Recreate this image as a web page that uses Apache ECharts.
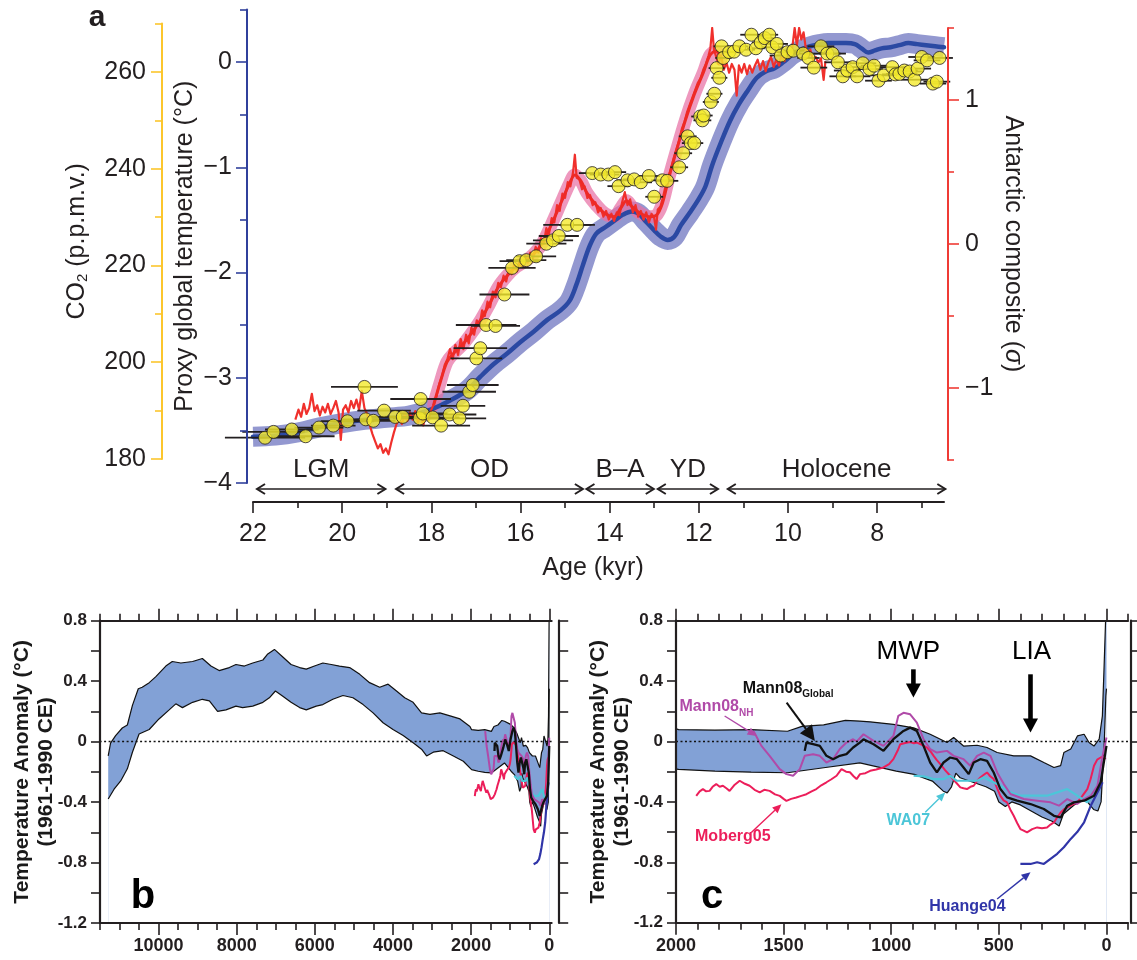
<!DOCTYPE html>
<html>
<head>
<meta charset="utf-8">
<title>Deglacial and Holocene temperature reconstructions</title>
<script src="https://cdn.jsdelivr.net/npm/echarts@6.0.0/dist/echarts.min.js"></script>
<style>
  html, body { margin: 0; padding: 0; background: #ffffff; }
  #chart { width: 1137px; height: 960px; }
</style>
</head>
<body>
<div id="chart"></div>
<script>
// ===================== Panel a: last deglaciation (age in kyr BP) =====================

// Proxy global temperature stack, mean (°C)
const globalTemp = [
  [22.0,-3.56],[21.5,-3.55],[21.0,-3.52],[20.5,-3.47],[20.0,-3.43],[19.5,-3.40],[19.0,-3.38],[18.5,-3.36],
  [18.0,-3.30],[17.6,-3.22],[17.2,-3.12],[16.9,-2.99],[16.6,-2.87],[16.3,-2.77],[16.0,-2.66],[15.7,-2.56],
  [15.4,-2.45],[15.1,-2.36],[14.9,-2.27],[14.75,-2.12],[14.6,-1.93],[14.45,-1.75],[14.3,-1.63],[14.1,-1.57],
  [13.9,-1.51],[13.7,-1.45],[13.5,-1.42],[13.35,-1.44],[13.2,-1.51],[13.0,-1.60],[12.85,-1.66],[12.7,-1.69],
  [12.55,-1.66],[12.4,-1.55],[12.2,-1.43],[12.0,-1.30],[11.85,-1.18],[11.7,-0.98],[11.5,-0.76],[11.3,-0.56],
  [11.1,-0.40],[10.9,-0.27],[10.7,-0.15],[10.5,-0.09],[10.3,-0.06],[10.1,0.00],[9.9,0.07],[9.7,0.12],
  [9.5,0.15],[9.3,0.17],[9.1,0.18],[8.9,0.18],[8.7,0.18],[8.5,0.17],[8.35,0.13],[8.2,0.09],[8.05,0.11],
  [7.9,0.13],[7.7,0.14],[7.5,0.16],[7.3,0.18],[7.1,0.17],[6.9,0.16],[6.7,0.15],[6.5,0.14]
];

// Antarctic temperature composite (standard deviation units), full resolution
const antarcticRaw = [
  [21.05,-1.22],[20.98,-1.15],[20.92,-1.2],[20.86,-1.11],[20.8,-1.18],[20.74,-1.14],[20.68,-1.04],[20.62,-1.16],
  [20.56,-1.12],[20.5,-1.19],[20.44,-1.13],[20.38,-1.17],[20.32,-1.11],[20.26,-1.18],[20.2,-1.14],[20.14,-1.09],
  [20.08,-1.17],[20.03,-1.36],[19.98,-1.15],[19.92,-1.12],[19.86,-1.17],[19.8,-1.09],[19.74,-1.14],[19.68,-1.08],
  [19.62,-1.15],[19.56,-1.02],[19.5,-1.14],[19.44,-1.18],[19.38,-1.26],[19.32,-1.32],[19.26,-1.37],[19.2,-1.42],
  [19.14,-1.39],[19.08,-1.45],[19.02,-1.42],[18.96,-1.46],[18.9,-1.38],[18.84,-1.31],[18.78,-1.25],[18.72,-1.22],
  [18.66,-1.25],[18.6,-1.19],[18.54,-1.23],[18.48,-1.17],[18.42,-1.22],[18.36,-1.16],[18.3,-1.24],[18.24,-1.19],
  [18.18,-1.26],[18.12,-1.17],[18.06,-1.22],[18.0,-1.15],[17.94,-1.11],[17.88,-1.05],[17.82,-0.97],[17.76,-0.92],
  [17.7,-0.84],[17.64,-0.8],[17.58,-0.73],[17.52,-0.8],[17.46,-0.7],[17.4,-0.77],[17.34,-0.66],[17.28,-0.73],
  [17.22,-0.63],[17.16,-0.69],[17.1,-0.58],[17.04,-0.63],[16.98,-0.53],[16.92,-0.57],[16.86,-0.46],[16.8,-0.5],
  [16.74,-0.4],[16.68,-0.44],[16.62,-0.33],[16.56,-0.37],[16.5,-0.27],[16.44,-0.3],[16.38,-0.22],[16.32,-0.26],
  [16.26,-0.17],[16.2,-0.21],[16.14,-0.14],[16.08,-0.19],[16.02,-0.11],[15.96,-0.16],[15.9,-0.08],[15.84,-0.13],
  [15.78,-0.06],[15.72,-0.1],[15.66,-0.02],[15.6,-0.06],[15.54,0.04],[15.48,0.0],[15.42,0.11],[15.36,0.07],
  [15.3,0.18],[15.24,0.15],[15.18,0.27],[15.12,0.23],[15.06,0.35],[15.0,0.32],[14.94,0.43],[14.88,0.4],
  [14.82,0.5],[14.78,0.62],[14.74,0.46],[14.68,0.45],[14.62,0.38],[14.56,0.4],[14.5,0.32],[14.44,0.34],
  [14.38,0.27],[14.32,0.29],[14.26,0.22],[14.2,0.25],[14.14,0.19],[14.08,0.23],[14.02,0.17],[13.96,0.21],
  [13.9,0.16],[13.84,0.22],[13.78,0.2],[13.72,0.29],[13.66,0.36],[13.6,0.27],[13.54,0.31],[13.48,0.22],
  [13.42,0.27],[13.36,0.19],[13.3,0.23],[13.24,0.17],[13.18,0.22],[13.12,0.15],[13.06,0.21],[13.0,0.18],
  [12.96,0.1],[12.92,0.24],[12.86,0.26],[12.8,0.33],[12.74,0.41],[12.68,0.47],[12.62,0.53],[12.56,0.6],
  [12.5,0.66],[12.44,0.72],[12.38,0.8],[12.32,0.85],[12.26,0.92],[12.2,0.97],[12.14,1.02],[12.08,1.07],
  [12.02,1.12],[11.96,1.15],[11.9,1.21],[11.84,1.25],[11.78,1.31],[11.74,1.36],[11.7,1.5],[11.66,1.35],
  [11.62,1.31],[11.56,1.25],[11.5,1.31],[11.44,1.21],[11.38,1.26],[11.32,1.19],[11.26,1.25],[11.2,1.21],
  [11.15,1.03],[11.1,1.24],[11.04,1.19],[10.98,1.25],[10.92,1.18],[10.86,1.24],[10.8,1.19],[10.74,1.24],
  [10.68,1.28],[10.62,1.21],[10.56,1.27],[10.5,1.2],[10.44,1.26],[10.38,1.3],[10.32,1.23],[10.26,1.28],
  [10.2,1.24],[10.14,1.32],[10.08,1.27],[10.02,1.33],[9.96,1.3],[9.9,1.37],[9.85,1.5],[9.8,1.38],
  [9.75,1.5],[9.7,1.42],[9.65,1.47],[9.6,1.36],[9.55,1.31],[9.5,1.35],[9.44,1.28],[9.38,1.3],
  [9.32,1.26],[9.26,1.29],[9.2,1.14],[9.16,1.27]
];

// Antarctic composite, smoothed (drawn with its uncertainty envelope)
const antarcticSmooth = [
  [17.95,-1.12],[17.8,-0.96],[17.65,-0.82],[17.5,-0.76],[17.3,-0.7],[17.1,-0.62],[16.9,-0.53],[16.7,-0.42],
  [16.5,-0.3],[16.3,-0.22],[16.1,-0.16],[15.9,-0.12],[15.7,-0.07],[15.5,0.01],[15.3,0.14],[15.1,0.28],
  [14.9,0.42],[14.78,0.48],[14.65,0.44],[14.5,0.35],[14.3,0.27],[14.1,0.21],[13.9,0.19],[13.75,0.25],
  [13.62,0.3],[13.5,0.26],[13.3,0.21],[13.1,0.19],[12.95,0.2],[12.82,0.28],[12.68,0.45],[12.5,0.65],
  [12.3,0.86],[12.1,1.04],[11.9,1.19],[11.75,1.31],[11.62,1.34],[11.5,1.28]
];

// Ice-core CO2: [age kyr, CO2 p.p.m.v., age uncertainty kyr]
const co2 = [
  [21.73,184.4,0.9],[21.54,185.6,0.7],[21.13,186.1,0.6],[20.82,184.7,0.65],[20.52,186.5,0.55],[20.2,186.9,0.5],
  [19.88,187.8,0.6],[19.5,194.9,0.75],[19.47,188.2,0.55],[19.3,187.9,0.5],[19.06,190.0,0.6],[18.81,188.7,0.55],
  [18.64,188.7,0.5],[18.24,192.4,0.68],[18.26,188.4,0.6],[18.19,189.4,0.55],[17.97,188.6,0.6],[17.78,186.9,0.65],
  [17.59,189.2,0.6],[17.37,188.4,0.6],[17.29,191.0,0.5],[17.15,193.9,0.6],[17.07,195.3,0.58],[16.99,200.8,0.58],
  [16.9,202.9,0.6],[16.77,207.7,0.68],[16.56,207.5,0.55],[16.36,214.0,0.56],[16.19,219.5,0.53],[16.02,220.9,0.45],
  [15.87,221.1,0.45],[15.65,221.9,0.45],[15.42,224.5,0.45],[15.27,225.2,0.45],[15.14,226.1,0.45],[14.95,228.4,0.54],
  [14.73,228.4,0.4],[14.39,239.1,0.3],[14.2,238.8,0.25],[14.03,238.8,0.25],[13.88,239.3,0.25],[13.8,236.4,0.25],
  [13.6,237.6,0.25],[13.45,237.8,0.25],[13.3,237.2,0.25],[13.12,238.5,0.25],[13.0,234.2,0.2],[12.82,237.6,0.25],
  [12.71,237.5,0.25],[12.44,240.3,0.2],[12.35,243.2,0.2],[12.25,246.7,0.2],[12.18,245.3,0.2],[12.1,245.3,0.2],
  [11.97,250.8,0.2],[11.92,250.0,0.2],[11.89,251.0,0.2],[11.73,253.8,0.18],[11.65,255.5,0.18],[11.6,260.8,0.18],
  [11.54,258.8,0.18],[11.49,265.3,0.18],[11.45,262.9,0.18],[11.32,264.1,0.2],[11.21,264.2,0.2],[11.09,265.3,0.2],
  [10.94,264.6,0.2],[10.82,267.7,0.25],[10.72,264.9,0.2],[10.61,266.1,0.2],[10.52,267.0,0.2],[10.42,267.7,0.2],
  [10.35,265.1,0.25],[10.25,265.8,0.25],[10.16,263.4,0.25],[10.01,264.1,0.25],[9.88,264.4,0.25],[9.66,263.8,0.25],
  [9.54,262.9,0.25],[9.42,260.9,0.3],[9.26,265.3,0.3],[9.12,263.8,0.3],[9.0,263.8,0.3],[8.88,262.0,0.3],
  [8.77,259.1,0.3],[8.67,260.3,0.3],[8.55,261.0,0.3],[8.45,259.1,0.3],[8.32,261.8,0.3],[8.17,260.6,0.3],
  [8.07,261.3,0.3],[7.97,258.2,0.3],[7.85,259.3,0.3],[7.66,261.0,0.3],[7.59,259.5,0.3],[7.5,259.6,0.3],
  [7.39,260.3,0.3],[7.27,260.1,0.3],[7.16,258.4,0.3],[7.09,260.7,0.3],[7.0,263.1,0.3],[6.88,262.4,0.3],
  [6.75,257.6,0.3],[6.66,258.0,0.3],[6.6,262.9,0.3]
];

// Climate intervals: name, start (kyr), end (kyr)
const periodNames = ['LGM', 'OD', 'B\u2013A', 'YD', 'Holocene'];
const periodStart = [21.91, 18.79, 14.52, 12.92, 11.35];
const periodEnd = [19.03, 14.6, 13.01, 11.57, 6.47];

// Axis ticks, panel a
const ageTicks = [22, 20, 18, 16, 14, 12, 10, 8];
const ageMinorTicks = [21, 19, 17, 15, 13, 11, 9, 7];
const tempTicks = [-4, -3, -2, -1, 0];
const tempMinorTicks = [-3.5, -2.5, -1.5, -0.5, 0.5];
const co2Ticks = [180, 200, 220, 240, 260];
const co2MinorTicks = [190, 210, 230, 250, 270];
const sigmaTicks = [-1, 0, 1];
const sigmaMinorTicks = [-1.5, -0.5, 0.5, 1.5];

// ===================== Panels b and c: Holocene and last two millennia (years BP) =====================

// Holocene global temperature envelope (°C, relative to 1961-1990)
const holoUpper = [
  [11290,-0.095],[11230,-0.01],[11100,0.04],[10930,0.09],[10800,0.11],[10670,0.24],[10520,0.35],[10420,0.36],
  [10240,0.39],[10070,0.43],[9815,0.50],[9650,0.53],[9430,0.52],[9130,0.53],[8880,0.55],[8660,0.50],
  [8450,0.47],[8190,0.49],[8020,0.51],[7805,0.50],[7590,0.52],[7330,0.54],[7205,0.58],[7035,0.61],
  [6820,0.56],[6610,0.51],[6390,0.49],[6220,0.48],[6010,0.50],[5795,0.52],[5580,0.51],[5370,0.50],
  [5110,0.49],[4850,0.445],[4600,0.39],[4340,0.36],[4125,0.38],[3910,0.335],[3700,0.29],[3485,0.26],
  [3270,0.19],[3055,0.18],[2800,0.19],[2540,0.17],[2285,0.15],[2030,0.10],[1988,0.079],[1819,0.075],
  [1651,0.079],[1482,0.068],[1415,0.10],[1314,0.11],[1213,0.14],[1146,0.135],[1098,0.13],[990,0.114],
  [896,0.09],[819,0.048],[741,-0.007],[710,0.026],[664,-0.03],[601,-0.025],[555,-0.04],[508,-0.073],
  [431,-0.095],[353,-0.095],[291,-0.139],[244,-0.172],[213,-0.16],[198,-0.073],[166,-0.05],[135,0.037],
  [104,0.048],[81,-0.007],[58,-0.03],[34,0.015],[19,0.17],[11,0.5],[3,0.85],[0,0.9]
];
const holoLower = [
  [11290,-0.38],[11140,-0.315],[10970,-0.26],[10800,-0.18],[10670,-0.07],[10500,0.05],[10240,0.08],[9990,0.15],
  [9730,0.21],[9560,0.25],[9390,0.225],[9130,0.26],[8880,0.28],[8700,0.27],[8490,0.20],[8275,0.21],
  [8020,0.235],[7850,0.225],[7590,0.235],[7330,0.26],[7165,0.29],[7010,0.335],[6820,0.30],[6610,0.26],
  [6390,0.225],[6220,0.21],[5965,0.235],[5795,0.245],[5540,0.28],[5280,0.305],[5025,0.29],[4765,0.245],
  [4510,0.19],[4255,0.125],[4000,0.08],[3740,0.04],[3485,-0.007],[3270,-0.05],[3140,-0.095],[2970,-0.07],
  [2715,-0.06],[2455,-0.095],[2200,-0.13],[1988,-0.185],[1819,-0.196],[1651,-0.203],[1482,-0.207],[1314,-0.174],
  [1146,-0.141],[977,-0.196],[893,-0.218],[809,-0.262],[758,-0.329],[740,-0.34],[720,-0.30],[700,-0.21],
  [680,-0.24],[600,-0.28],[560,-0.30],[520,-0.33],[500,-0.40],[470,-0.43],[440,-0.40],[400,-0.42],
  [350,-0.46],[300,-0.50],[250,-0.53],[220,-0.56],[200,-0.48],[150,-0.42],[100,-0.38],[60,-0.45],
  [40,-0.46],[25,-0.40],[10,0.0],[3,0.3],[0,0.35]
];

// Individual reconstructions (°C)
const moberg05 = [
  [1906,-0.36],[1890,-0.33],[1875,-0.315],[1860,-0.33],[1844,-0.327],[1830,-0.3],[1813,-0.282],[1797,-0.3],
  [1782,-0.293],[1766,-0.31],[1751,-0.327],[1730,-0.29],[1704,-0.26],[1680,-0.28],[1658,-0.293],[1635,-0.32],
  [1611,-0.337],[1590,-0.32],[1565,-0.327],[1540,-0.35],[1518,-0.36],[1500,-0.38],[1487,-0.393],[1465,-0.38],
  [1441,-0.371],[1418,-0.36],[1394,-0.349],[1370,-0.33],[1348,-0.315],[1325,-0.29],[1301,-0.27],[1278,-0.25],
  [1254,-0.227],[1240,-0.2],[1231,-0.183],[1210,-0.2],[1192,-0.204],[1175,-0.23],[1161,-0.249],[1145,-0.216],
  [1120,-0.21],[1098,-0.194],[1070,-0.185],[1036,-0.172],[1010,-0.15],[990,-0.117],[970,-0.06],[958,-0.018],
  [935,-0.01],[912,-0.003],[895,-0.012],[881,-0.007],[860,-0.02],[834,-0.04],[815,-0.07],[803,-0.095],
  [790,-0.12],[772,-0.15],[750,-0.19],[726,-0.227],[700,-0.27],[679,-0.304],[664,-0.31],[648,-0.315],
  [632,-0.3],[617,-0.293],[600,-0.26],[586,-0.238],[570,-0.22],[555,-0.205],[540,-0.23],[524,-0.249],
  [508,-0.31],[493,-0.36],[478,-0.39],[462,-0.403],[447,-0.45],[431,-0.492],[415,-0.54],[400,-0.58],
  [385,-0.59],[369,-0.602],[345,-0.58],[322,-0.569],[300,-0.575],[276,-0.569],[260,-0.55],[244,-0.536],
  [228,-0.5],[213,-0.47],[198,-0.45],[182,-0.436],[160,-0.42],[136,-0.403],[112,-0.36],[89,-0.315],
  [74,-0.25],[58,-0.161],[43,-0.12],[27,-0.106],[15,-0.1],[4,-0.117]
];
const mann08NH = [
  [1640,0.07],[1603,-0.029],[1565,-0.095],[1518,-0.183],[1487,-0.216],[1456,-0.227],[1425,-0.183],[1402,-0.095],
  [1363,-0.084],[1332,-0.095],[1301,-0.139],[1270,-0.117],[1239,-0.05],[1208,-0.007],[1177,0.015],[1160,0.0],
  [1129,0.048],[1082,0.004],[1036,-0.029],[990,0.037],[967,0.17],[943,0.19],[912,0.18],[881,0.125],
  [850,0.015],[819,-0.05],[788,-0.073],[741,-0.062],[710,-0.095],[664,-0.117],[633,-0.16],[601,-0.095],
  [570,-0.073],[539,-0.095],[508,-0.205],[477,-0.282],[446,-0.348],[384,-0.381],[322,-0.392],[260,-0.403],
  [221,-0.425],[182,-0.381],[136,-0.414],[104,-0.381],[73,-0.359],[42,-0.293],[18,-0.095],[0,0.026]
];
const mann08Global = [
  [1402,-0.062],[1394,-0.007],[1363,-0.018],[1332,-0.029],[1301,-0.095],[1270,-0.117],[1239,-0.095],[1208,-0.084],
  [1177,-0.04],[1146,-0.007],[1129,0.015],[1082,-0.018],[1036,-0.062],[990,0.015],[943,0.07],[912,0.092],
  [881,0.07],[850,-0.029],[819,-0.139],[788,-0.205],[757,-0.139],[726,-0.106],[695,-0.117],[664,-0.172],
  [640,-0.216],[617,-0.139],[586,-0.117],[555,-0.128],[524,-0.205],[493,-0.315],[462,-0.37],[415,-0.392],
  [353,-0.414],[291,-0.447],[244,-0.492],[213,-0.503],[182,-0.425],[151,-0.403],[104,-0.392],[58,-0.359],
  [27,-0.27],[0,-0.029]
];
const wa07 = [
  [896,-0.227],[850,-0.231],[803,-0.249],[757,-0.249],[726,-0.227],[695,-0.26],[648,-0.26],[601,-0.26],
  [570,-0.238],[539,-0.26],[493,-0.293],[446,-0.337],[400,-0.359],[337,-0.359],[276,-0.359],[229,-0.337],
  [182,-0.315],[136,-0.359],[89,-0.403],[58,-0.348],[27,-0.249]
];
const huange04 = [
  [400,-0.811],[353,-0.811],[322,-0.8],[291,-0.811],[260,-0.777],[229,-0.744],[198,-0.7],[166,-0.645],
  [136,-0.6],[104,-0.535],[73,-0.425],[42,-0.337],[18,-0.27]
];

// Callouts in panel c: label position, arrow tail, arrow tip (years BP, °C)
const calloutText = ['Mann08{sub|Global}', 'Mann08{sub|NH}', 'Moberg05', 'WA07', 'Huange04'];
const calloutColor = ['#111111', '#b04aa8', '#ec1e5a', '#4cc6d8', '#3035a8'];
const calloutAlign = ['left', 'left', 'center', 'center', 'center'];
const calloutLabel = [[1690, 0.35], [1984, 0.23], [1736, -0.633], [921, -0.527], [646, -1.096]];
const calloutTail = [[1486, 0.258], [1774, 0.169], [1650, -0.602], [842, -0.469], [508, -1.043]];
const calloutTip = [[1355, 0.004], [1626, 0.037], [1510, -0.415], [749, -0.337], [353, -0.866]];

// Climate episodes in panel c: label position and arrow (year, top, tip)
const episodeNames = ['MWP', 'LIA'];
const episodeLabel = [[921, 0.597], [348, 0.597]];
const episodeArrow = [[897, 0.478, 0.291], [353, 0.445, 0.06]];

// Axis ticks, panels b and c
const anomalyTicks = [-1.2, -1.0, -0.8, -0.6, -0.4, -0.2, 0, 0.2, 0.4, 0.6, 0.8];
const anomalyLabels = [-1.2, -0.8, -0.4, 0, 0.4, 0.8];
const holoTicksB = [0, 2000, 4000, 6000, 8000, 10000];
const holoMinorB = [500, 1000, 1500, 2500, 3000, 3500, 4500, 5000, 5500, 6500, 7000, 7500, 8500, 9000, 9500, 10500, 11000, 11500];
const holoTicksC = [0, 500, 1000, 1500, 2000];
const holoMinorC = [-100, 100, 200, 300, 400, 600, 700, 800, 900, 1100, 1200, 1300, 1400, 1600, 1700, 1800, 1900];

// ===================== styling =====================
const INK = '#231f20';
const FONT = '"Liberation Sans", Arial, Helvetica, sans-serif';
const BLUE_AX = '#30409c';
const YELLOW_AX = '#fcc62c';
const RED_AX = '#ef3b35';
const BAND_FILL = '#82a1d6';
const PERIOD_ARROW_LEVEL = -4.057;   // just below the temperature axis minimum
const PERIOD_LABEL_LEVEL = -3.876;

const minusFmt = v => (v === 0 ? '0' : (v < 0 ? '\u2212' + Math.abs(v) : String(v)));
const anomalyFmt = v => (Math.abs(v) < 1e-9 ? '0' : v.toFixed(1));

function axis(kind, gridIndex, position, min, max, o) {
  o = o || {};
  const color = o.color || INK;
  const ax = {
    type: 'value', gridIndex, position, min, max,
    inverse: !!o.inverse, offset: o.offset || 0, z: 10, show: o.show !== false,
    axisLine: { show: o.line !== false, onZero: false, lineStyle: { color, width: o.lineWidth || 2 } },
    axisTick: o.ticks ? { show: true, customValues: o.ticks, length: o.tickLen || 8, inside: false,
      lineStyle: { color, width: o.tickWidth || 1.6 } } : { show: false },
    axisLabel: o.labels ? { show: true, customValues: o.labels, margin: o.labelMargin || 8,
      formatter: o.fmt || (v => String(v)), color: INK, fontFamily: FONT,
      fontSize: o.labelSize || 25, fontWeight: o.labelWeight || 'normal' } : { show: false },
    splitLine: { show: false }, minorTick: { show: false }, minorSplitLine: { show: false }
  };
  if (o.name) {
    ax.name = o.name;
    ax.nameLocation = 'middle';
    ax.nameGap = o.nameGap;
    ax.nameMoveOverlap = false;
    if (o.nameRotate !== undefined) ax.nameRotate = o.nameRotate;
    ax.nameTextStyle = Object.assign({ color: INK, fontFamily: FONT, fontSize: 25 }, o.nameStyle || {});
  }
  return ax;
}

// ---- grids ----
const grid = [
  { left: 253, top: 9.4, width: 691, height: 473.6 },     // 0: temperature (blue axis)
  { left: 253, top: 23.6, width: 691, height: 435.4 },    // 1: CO2 (yellow axis)
  { left: 253, top: 28, width: 691, height: 432 },        // 2: Antarctic composite (red axis)
  { left: 100, top: 620.7, width: 451.6, height: 302.3 }, // 3: panel b
  { left: 676, top: 620.7, width: 452, height: 302 }      // 4: panel c
].map(g => Object.assign({ containLabel: false, outerBoundsMode: 'none', show: false }, g));

// ---- x axes ----
const xAxis = [
  axis('x', 0, 'bottom', 6.5, 22, { inverse: true, offset: 19, ticks: ageTicks, tickLen: 11, labels: ageTicks,
    labelMargin: 20, name: 'Age (kyr)', nameGap: 54, nameStyle: { padding: [0, 11, 0, 0] } }),
  axis('x', 0, 'bottom', 6.5, 22, { inverse: true, offset: 19, line: false, ticks: ageMinorTicks, tickLen: 6 }),
  axis('x', 1, 'bottom', 6.5, 22, { inverse: true, show: false }),
  axis('x', 2, 'bottom', 6.5, 22, { inverse: true, show: false }),
  // panel b
  axis('x', 3, 'bottom', -60, 11500, { inverse: true, ticks: holoTicksB, tickLen: 12, labels: holoTicksB,
    labelMargin: 14, labelSize: 18, labelWeight: 'bold', lineWidth: 2.2 }),
  axis('x', 3, 'bottom', -60, 11500, { inverse: true, line: false, ticks: holoMinorB, tickLen: 7 }),
  axis('x', 3, 'top', -60, 11500, { inverse: true, ticks: holoTicksB, tickLen: 12, lineWidth: 2.2 }),
  axis('x', 3, 'top', -60, 11500, { inverse: true, line: false, ticks: holoMinorB, tickLen: 7 }),
  // panel c
  axis('x', 4, 'bottom', -100, 2000, { inverse: true, ticks: holoTicksC, tickLen: 12, labels: holoTicksC,
    labelMargin: 14, labelSize: 18, labelWeight: 'bold', lineWidth: 2.2 }),
  axis('x', 4, 'bottom', -100, 2000, { inverse: true, line: false, ticks: holoMinorC, tickLen: 7 }),
  axis('x', 4, 'top', -100, 2000, { inverse: true, ticks: holoTicksC, tickLen: 12, lineWidth: 2.2 }),
  axis('x', 4, 'top', -100, 2000, { inverse: true, line: false, ticks: holoMinorC, tickLen: 7 })
];

const anomalyName = 'Temperature Anomaly (\u00B0C)\n(1961-1990 CE)';
const anomalyNameStyle = { fontSize: 21, fontWeight: 'bold', lineHeight: 24, color: '#1a1a1a' };

// ---- y axes ----
const yAxis = [
  axis('y', 0, 'left', -4, 0.5, { color: BLUE_AX, offset: 6, ticks: tempTicks, tickLen: 11, labels: tempTicks,
    labelMargin: 15, fmt: minusFmt, name: 'Proxy global temperature (\u00B0C)', nameGap: 49 }),
  axis('y', 0, 'left', -4, 0.5, { color: BLUE_AX, offset: 6, line: false, ticks: tempMinorTicks, tickLen: 7 }),
  axis('y', 1, 'left', 180, 270, { color: YELLOW_AX, offset: 91, ticks: co2Ticks, tickLen: 11, labels: co2Ticks,
    labelMargin: 16, name: 'CO{sub|2} (p.p.m.v.)', nameGap: 72,
    nameStyle: { rich: { sub: { fontSize: 15, fontFamily: FONT, color: INK, verticalAlign: 'bottom', lineHeight: 16 } } } }),
  axis('y', 1, 'left', 180, 270, { color: YELLOW_AX, offset: 91, line: false, ticks: co2MinorTicks, tickLen: 7 }),
  axis('y', 2, 'right', -1.5, 1.5, { color: RED_AX, offset: 4, ticks: sigmaTicks, tickLen: 11, labels: sigmaTicks,
    labelMargin: 17, fmt: minusFmt, name: 'Antarctic composite ({it|\u03C3})', nameGap: 52, nameRotate: -90,
    nameStyle: { rich: { it: { fontStyle: 'italic', fontSize: 25, fontFamily: FONT, color: INK } } } }),
  axis('y', 2, 'right', -1.5, 1.5, { color: RED_AX, offset: 4, line: false, ticks: sigmaMinorTicks, tickLen: 6 }),
  // panel b
  axis('y', 3, 'left', -1.2, 0.8, { ticks: anomalyTicks, tickLen: 9, labels: anomalyLabels, labelMargin: 13,
    labelSize: 17, labelWeight: 'bold', fmt: anomalyFmt, lineWidth: 2.2,
    name: anomalyName, nameGap: 42, nameStyle: anomalyNameStyle }),
  axis('y', 3, 'right', -1.2, 0.8, { offset: 7.6, ticks: anomalyTicks, tickLen: 9, lineWidth: 2.2 }),
  // panel c
  axis('y', 4, 'left', -1.2, 0.8, { ticks: anomalyTicks, tickLen: 9, labels: anomalyLabels, labelMargin: 13,
    labelSize: 17, labelWeight: 'bold', fmt: anomalyFmt, lineWidth: 2.2,
    name: anomalyName, nameGap: 42, nameStyle: anomalyNameStyle }),
  axis('y', 4, 'right', -1.2, 0.8, { offset: 2.3, ticks: anomalyTicks, tickLen: 9, lineWidth: 2.2 })
];

// ---- helpers for drawn annotations ----
function arrowHead(tip, tail, len, half) {
  const dx = tip[0] - tail[0], dy = tip[1] - tail[1];
  const L = Math.hypot(dx, dy) || 1;
  const ux = dx / L, uy = dy / L;
  const bx = tip[0] - ux * len, by = tip[1] - uy * len;
  return { points: [[tip[0], tip[1]], [bx - uy * half, by + ux * half], [bx + uy * half, by - ux * half]], base: [bx, by] };
}

const series = [];

// ---------- panel a ----------
series.push({
  type: 'line', name: 'Global temperature 1\u03C3', xAxisIndex: 0, yAxisIndex: 0, data: globalTemp,
  showSymbol: false, smooth: 0.35, silent: true, z: 1,
  lineStyle: { color: '#9398d0', width: 20, cap: 'butt', join: 'round' }
});
series.push({
  type: 'line', name: 'Antarctic composite 1\u03C3', xAxisIndex: 3, yAxisIndex: 4, data: antarcticSmooth,
  showSymbol: false, smooth: 0.35, silent: true, z: 2,
  lineStyle: { color: 'rgba(232,112,165,0.72)', width: 13, cap: 'round', join: 'round' }
});
series.push({
  type: 'line', name: 'Global temperature', xAxisIndex: 0, yAxisIndex: 0, data: globalTemp,
  showSymbol: false, smooth: 0.35, silent: true, z: 3,
  lineStyle: { color: '#2b49a3', width: 4.5, cap: 'round' }
});
series.push({
  type: 'line', name: 'Antarctic composite', xAxisIndex: 3, yAxisIndex: 4, data: antarcticRaw,
  showSymbol: false, silent: true, z: 4,
  lineStyle: { color: '#f0302c', width: 2.2, join: 'round' }
});
series.push({
  type: 'line', name: 'Antarctic composite (smoothed)', xAxisIndex: 3, yAxisIndex: 4, data: antarcticSmooth,
  showSymbol: false, smooth: 0.35, silent: true, z: 4,
  lineStyle: { color: '#ee2a26', width: 3 }
});
series.push({
  type: 'custom', name: 'CO2 age uncertainty', xAxisIndex: 2, yAxisIndex: 2, data: co2, z: 5, silent: true,
  renderItem(params, api) {
    const age = api.value(0), c = api.value(1), e = api.value(2);
    const p1 = api.coord([age + e, c]);
    const p2 = api.coord([age - e, c]);
    return { type: 'line', shape: { x1: p1[0], y1: p1[1], x2: p2[0], y2: p2[1] },
      style: { stroke: INK, lineWidth: 1.8 } };
  }
});
series.push({
  type: 'scatter', name: 'CO2', xAxisIndex: 2, yAxisIndex: 2, data: co2.map(d => [d[0], d[1]]),
  symbol: 'circle', symbolSize: 13, silent: true, z: 6,
  itemStyle: { color: '#f4ea2d', borderColor: INK, borderWidth: 1 }
});
series.push({
  type: 'custom', name: 'Intervals', xAxisIndex: 0, yAxisIndex: 0, silent: true, z: 6,
  data: periodStart.map((s, i) => [s, periodEnd[i]]),
  renderItem(params, api) {
    const s = api.value(0), e = api.value(1);
    const a = api.coord([s, PERIOD_ARROW_LEVEL]);
    const b = api.coord([e, PERIOD_ARROW_LEVEL]);
    const m = api.coord([(s + e) / 2, PERIOD_LABEL_LEVEL]);
    const h = 8, w = 5;
    return { type: 'group', children: [
      { type: 'line', shape: { x1: a[0], y1: a[1], x2: b[0], y2: b[1] }, style: { stroke: INK, lineWidth: 1.4 } },
      { type: 'polyline', shape: { points: [[a[0] + h, a[1] - w], [a[0], a[1]], [a[0] + h, a[1] + w]] },
        style: { stroke: INK, lineWidth: 2, fill: null } },
      { type: 'polyline', shape: { points: [[b[0] - h, b[1] - w], [b[0], b[1]], [b[0] - h, b[1] + w]] },
        style: { stroke: INK, lineWidth: 2, fill: null } },
      { type: 'text', x: m[0], y: m[1], style: { text: periodNames[params.dataIndex], fill: INK,
        fontFamily: FONT, fontSize: 26, align: 'center', verticalAlign: 'middle' } }
    ] };
  }
});

// ---------- panels b and c ----------
function holoceneSeries(xi, yi, withCallouts) {
  const out = [];
  const base = { type: 'line', xAxisIndex: xi, yAxisIndex: yi, showSymbol: false, silent: true };
  out.push(Object.assign({}, base, { data: holoUpper, z: 1, lineStyle: { width: 0 },
    areaStyle: { color: BAND_FILL, opacity: 1, origin: 'start' } }));
  out.push(Object.assign({}, base, { data: holoLower, z: 1, lineStyle: { width: 0 },
    areaStyle: { color: '#ffffff', opacity: 1, origin: 'start' } }));
  out.push(Object.assign({}, base, { data: holoUpper, z: 2, lineStyle: { color: '#111', width: 1.2 } }));
  out.push(Object.assign({}, base, { data: holoLower, z: 2, lineStyle: { color: '#111', width: 1.2 },
    markLine: { silent: true, symbol: 'none', label: { show: false }, animation: false,
      lineStyle: { color: '#111', width: 1.3, type: [2, 2.5] }, data: [{ yAxis: 0 }] } }));
  out.push(Object.assign({}, base, { data: moberg05, z: 3, lineStyle: { color: '#ec1e5a', width: 2 } }));
  out.push(Object.assign({}, base, { data: wa07, z: 3, lineStyle: { color: '#4cc6d8', width: 2.2 } }));
  out.push(Object.assign({}, base, { data: huange04, z: 3, lineStyle: { color: '#3035a8', width: 2.2 } }));
  out.push(Object.assign({}, base, { data: mann08NH, z: 3, lineStyle: { color: '#b04aa8', width: 2 } }));
  out.push(Object.assign({}, base, { data: mann08Global, z: 4, lineStyle: { color: '#111111', width: 2.3 } }));

  if (withCallouts) {
    out.push({
      type: 'custom', xAxisIndex: xi, yAxisIndex: yi, silent: true, z: 6,
      data: calloutLabel.map((p, i) => [p[0], p[1], calloutTail[i][0], calloutTail[i][1], calloutTip[i][0], calloutTip[i][1]]),
      renderItem(params, api) {
        const i = params.dataIndex;
        const color = calloutColor[i];
        const lab = api.coord([api.value(0), api.value(1)]);
        const tail = api.coord([api.value(2), api.value(3)]);
        const tip = api.coord([api.value(4), api.value(5)]);
        const big = i === 0;
        const head = arrowHead(tip, tail, big ? 15 : 9, big ? 7.5 : 4);
        return { type: 'group', children: [
          { type: 'line', shape: { x1: tail[0], y1: tail[1], x2: head.base[0], y2: head.base[1] },
            style: { stroke: color, lineWidth: big ? 2 : 1.4 } },
          { type: 'polygon', shape: { points: head.points }, style: { fill: color } },
          { type: 'text', x: lab[0], y: lab[1], style: {
            text: calloutText[i], fill: color, fontFamily: FONT, fontSize: 16, fontWeight: 'bold',
            lineHeight: 22, align: calloutAlign[i], verticalAlign: 'middle',
            rich: { sub: { fontSize: 10, fontWeight: 'bold', fontFamily: FONT, fill: color,
              verticalAlign: 'bottom', lineHeight: 10 } } } }
        ] };
      }
    });
    out.push({
      type: 'custom', xAxisIndex: xi, yAxisIndex: yi, silent: true, z: 6,
      data: episodeLabel.map((p, i) => [p[0], p[1], episodeArrow[i][0], episodeArrow[i][1], episodeArrow[i][2]]),
      renderItem(params, api) {
        const lab = api.coord([api.value(0), api.value(1)]);
        const top = api.coord([api.value(2), api.value(3)]);
        const tip = api.coord([api.value(2), api.value(4)]);
        const headLen = 14, shaftHalf = 2.3, headHalf = 7.5;
        const neck = tip[1] - headLen;
        return { type: 'group', children: [
          { type: 'rect', shape: { x: top[0] - shaftHalf, y: top[1], width: shaftHalf * 2, height: neck - top[1] + 1 },
            style: { fill: '#000' } },
          { type: 'polygon', shape: { points: [[tip[0] - headHalf, neck], [tip[0] + headHalf, neck], [tip[0], tip[1]]] },
            style: { fill: '#000' } },
          { type: 'text', x: lab[0], y: lab[1], style: { text: episodeNames[params.dataIndex], fill: '#000',
            fontFamily: FONT, fontSize: 26, align: 'center', verticalAlign: 'middle' } }
        ] };
      }
    });
  }
  return out;
}
series.push(...holoceneSeries(4, 6, false));
series.push(...holoceneSeries(8, 8, true));

const chart = echarts.init(document.getElementById('chart'), null, { renderer: 'canvas' });
chart.setOption({
  backgroundColor: '#ffffff',
  animation: false,
  textStyle: { fontFamily: FONT },
  grid, xAxis, yAxis, series,
  graphic: [
    { type: 'text', x: 97, y: 18, z: 20, style: { text: 'a', fill: INK, font: 'bold 30px ' + FONT, align: 'center', verticalAlign: 'middle' } },
    { type: 'text', x: 143, y: 897, z: 20, style: { text: 'b', fill: '#000', font: 'bold 40px ' + FONT, align: 'center', verticalAlign: 'middle' } },
    { type: 'text', x: 712, y: 897, z: 20, style: { text: 'c', fill: '#000', font: 'bold 40px ' + FONT, align: 'center', verticalAlign: 'middle' } }
  ]
});
</script>
</body>
</html>
